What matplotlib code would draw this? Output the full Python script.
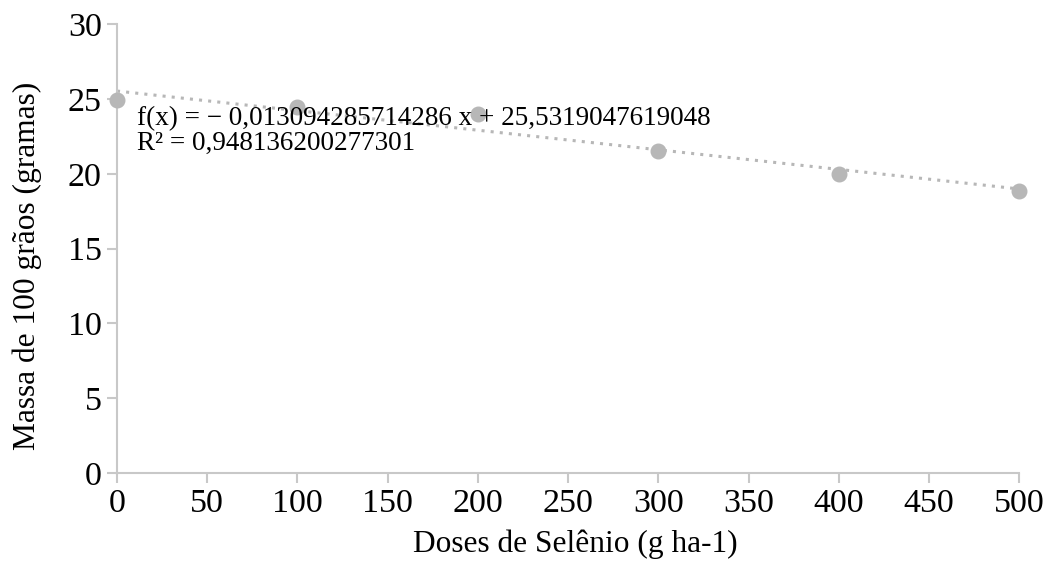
import numpy as np
import matplotlib.pyplot as plt

plt.rcParams['font.family'] = ['Liberation Serif', 'DejaVu Serif']

# doses de selênio (g ha-1) e massa de 100 grãos (g)
doses = [0, 100, 200, 300, 400, 500]
massa = [24.9, 24.45, 24.0, 21.5, 20.0, 18.85]

# regressão linear mostrada no gráfico
slope = -0.013094285714286
intercept = 25.5319047619048
eq_text = "f(x) = − 0,013094285714286 x + 25,5319047619048\nR² = 0,948136200277301"

GRAY = "#b7b7b7"
SPINE = "#c8c8c8"

fig = plt.figure(figsize=(10.54, 5.63), dpi=100)
ax = fig.add_axes([0.111, 0.160, 0.856, 0.797])

xs = np.array([doses[0], doses[-1]])
ax.plot(xs, slope * xs + intercept, linestyle=(0, (1, 2)), color=GRAY, linewidth=2.2, zorder=2)
ax.scatter(doses, massa, s=110, color=GRAY, zorder=3, clip_on=False)

ax.text(11, 24.55, eq_text, fontsize=19.5, va="top", ha="left", linespacing=1.0)

ax.set_xlim(0, 500)
ax.set_ylim(0, 30)
ax.set_xticks(range(0, 501, 50))
ax.set_yticks(range(0, 31, 5))

for side in ["top", "right"]:
    ax.spines[side].set_visible(False)
for side in ["left", "bottom"]:
    ax.spines[side].set_color(SPINE)
    ax.spines[side].set_linewidth(1.5)
ax.tick_params(direction="out", length=7, width=1.5, color=SPINE, labelsize=24.5, pad=4)

ax.set_xlabel("Doses de Selênio (g ha-1)", fontsize=22.6)
ax.set_ylabel("Massa de 100 grãos (gramas)", fontsize=22.6)
ax.xaxis.set_label_coords(0.508, -0.125)
ax.yaxis.set_label_coords(-0.083, 0.461)

fig.savefig("out.png", dpi=100)
